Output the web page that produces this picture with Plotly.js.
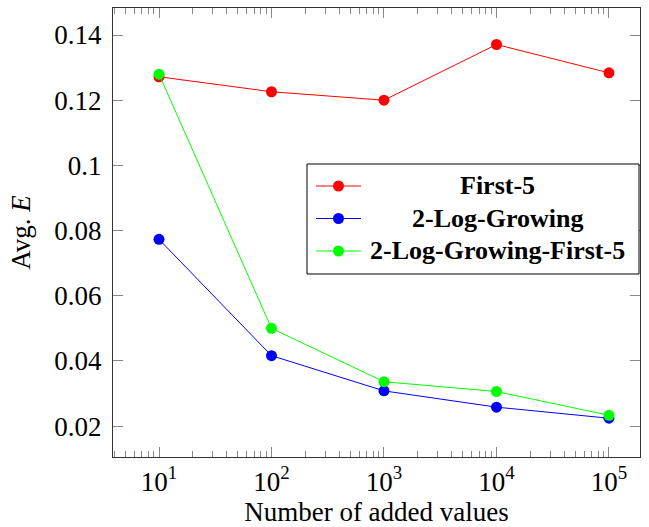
<!DOCTYPE html>
<html><head><meta charset="utf-8">
<script src="https://cdn.plot.ly/plotly-3.0.1.min.js"></script>
<style>html,body{margin:0;padding:0;background:#fff}#chart{width:649px;height:527px}</style>
</head><body><div id="chart"></div>
<script>
const xValues = [10, 100, 1000, 10000, 100000];
const first5 = [0.1272, 0.1226, 0.1200, 0.1371, 0.1284];
const logGrowing = [0.0773, 0.0416, 0.0308, 0.0258, 0.0224];
const logGrowingFirst5 = [0.1280, 0.0500, 0.0336, 0.0306, 0.0233];
const seriesNames = ['First-5', '2-Log-Growing', '2-Log-Growing-First-5'];
const seriesColors = ['#ff0000', '#0000ff', '#00ff00'];
const xTickVals = [10, 100, 1000, 10000, 100000];
const xTickText = ['10<sup>1</sup>', '10<sup>2</sup>', '10<sup>3</sup>', '10<sup>4</sup>', '10<sup>5</sup>'];
const xMinorTickVals = [4, 5, 6, 7, 8, 9,
  20, 30, 40, 50, 60, 70, 80, 90,
  200, 300, 400, 500, 600, 700, 800, 900,
  2000, 3000, 4000, 5000, 6000, 7000, 8000, 9000,
  20000, 30000, 40000, 50000, 60000, 70000, 80000, 90000,
  200000, 300000, 400000, 500000, 600000, 700000, 800000, 900000];
const yTickVals = [0.02, 0.04, 0.06, 0.08, 0.1, 0.12, 0.14];
const yTickText = ['0.02', '0.04', '0.06', '0.08', '0.1', '0.12', '0.14'];

const seriesData = [first5, logGrowing, logGrowingFirst5];
const traces = seriesData.map((ys, i) => ({
  x: xValues, y: ys, type: 'scatter', mode: 'lines+markers', name: seriesNames[i],
  line: {color: seriesColors[i], width: 1},
  marker: {color: seriesColors[i], size: 11, symbol: 'circle'},
  showlegend: false
}));

const serif = 'Liberation Serif, DejaVu Serif, serif';
const W = 527, H = 449, L = 113, T = 8;
const px = v => (v - L) / W, py = v => (T + H - v) / H;
const shapes = [{type: 'rect', xref: 'paper', yref: 'paper', x0: px(307), x1: px(639), y0: py(274), y1: py(164),
  line: {color: '#000', width: 1}, fillcolor: '#fff', layer: 'above'}];
const annotations = [];
const rowsY = [186, 218.5, 251];
seriesNames.forEach((n, i) => {
  shapes.push({type: 'line', xref: 'paper', yref: 'paper', x0: px(316), x1: px(361), y0: py(rowsY[i]), y1: py(rowsY[i]),
    line: {color: seriesColors[i], width: 1}, layer: 'above'});
  shapes.push({type: 'circle', xref: 'paper', yref: 'paper', xsizemode: 'pixel', ysizemode: 'pixel',
    xanchor: px(338.5), yanchor: py(rowsY[i]), x0: -5.5, x1: 5.5, y0: -5.5, y1: 5.5,
    fillcolor: seriesColors[i], line: {color: seriesColors[i], width: 0}, layer: 'above'});
  annotations.push({xref: 'paper', yref: 'paper', x: px(497), y: py(rowsY[i]), text: '<b>' + n + '</b>',
    showarrow: false, xanchor: 'center', yanchor: 'middle', font: {family: serif, size: 26, color: '#000'}});
});

const layout = {
  width: 649, height: 527,
  margin: {l: 113, r: 9, t: 8, b: 70},
  paper_bgcolor: '#fff', plot_bgcolor: '#fff',
  font: {family: serif, size: 27, color: '#000'},
  xaxis: {
    type: 'log', range: [1 - 0.409, 5.276], automargin: false,
    tickvals: xTickVals, ticktext: xTickText,
    ticks: 'inside', ticklen: 10, tickcolor: '#888', tickwidth: 1,
    showline: true, linecolor: '#333', linewidth: 1.2, mirror: 'allticks',
    showgrid: false, zeroline: false,
    minor: {tickvals: xMinorTickVals, ticks: 'inside', ticklen: 6, tickcolor: '#888', tickwidth: 1, showgrid: false},
    tickfont: {family: serif, size: 27},
    title: {text: 'Number of added values', font: {family: serif, size: 27}, standoff: 6}
  },
  yaxis: {
    range: [0.0105, 0.1483], automargin: false,
    tickvals: yTickVals, ticktext: yTickText,
    ticks: 'inside', ticklen: 10, tickcolor: '#888', tickwidth: 1,
    showline: true, linecolor: '#333', linewidth: 1.2, mirror: 'allticks',
    showgrid: false, zeroline: false, ticklabelstandoff: 5,
    tickfont: {family: serif, size: 27},
    title: {text: 'Avg. <i>E</i>', font: {family: serif, size: 27}, standoff: 15}
  },
  shapes: shapes, annotations: annotations
};
Plotly.newPlot('chart', traces, layout, {displayModeBar: false, staticPlot: true});
</script></body></html>
